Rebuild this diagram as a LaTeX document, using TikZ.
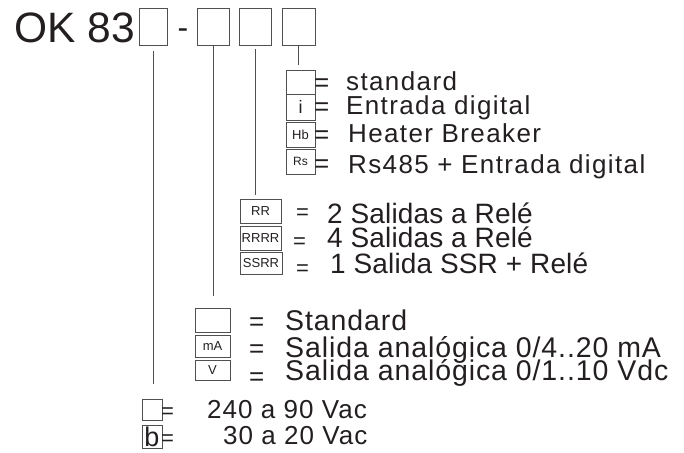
\documentclass[tikz,border=0pt]{standalone}
\usepackage{fontspec}
\setmainfont{Liberation Sans}
\usetikzlibrary{positioning}
\definecolor{ink}{HTML}{231F20}
\definecolor{rule}{HTML}{505050}
\newcommand{\fsz}[1]{\fontsize{#1}{#1}\selectfont}

\begin{document}
\begin{tikzpicture}[x=1pt,y=-1pt,node distance=2pt,text=ink]
\tikzset{box/.style={draw=rule,line width=0.7pt,inner sep=0pt,minimum width=#1,font=\fsz{13}},
  eq/.style={anchor=base west,inner sep=0pt,font=\fsz{#1}},
  desc/.style 2 args={anchor=base west,inner sep=0pt,font=\fsz{#1}\addfontfeature{LetterSpace=#2}},
  wire/.style={draw=rule,line width=0.7pt}}
\useasboundingbox (0,0) rectangle (684,452);
% code header
\node[desc={42.5}{0}] (title) at (14,42) {OK 83};
\node[box=28pt,minimum height=37pt] (t1) at (153,26.5) {};
\node[anchor=base,inner sep=0pt,font=\fsz{32}] (dash) at (183,39) {-};
\node[box=32pt,minimum height=37pt] (t2) at (213,26.5) {};
\node[box=32pt,minimum height=37pt] (t3) at (255,26.5) {};
\node[box=33pt,minimum height=37pt] (t4) at (298.5,26.5) {};
% last field
\node[box=29pt,minimum height=24pt] (c1) at (300.5,82) {};
\node[box=29pt,minimum height=26pt,font=\fsz{18}] (c2) at (300.5,107) {i};
\node[box=29pt,minimum height=25pt] (c3) at (300.5,134.5) {Hb};
\node[box=29pt,minimum height=25pt,font=\fsz{12}] (c4) at (300.5,161.5) {Rs};
\node[eq=26] (ec1) at (314,91) {=};
\node[eq=26] (ec2) at (314,115.5) {=};
\node[eq=26] (ec3) at (314,143) {=};
\node[eq=26] (ec4) at (314,172) {=};
\node[desc={26}{5.3}] (dc1) at (346,90) {standard};
\node[desc={26}{5.3}] (dc2) at (346,114) {Entrada digital};
\node[desc={26}{5.3}] (dc3) at (348,142) {Heater Breaker};
\node[desc={26}{5.3}] (dc4) at (348,173) {Rs485 + Entrada digital};
% relays
\node[box=41pt,minimum height=24pt] (r1) at (260.5,211) {RR};
\node[box=41pt,minimum height=24pt] (r2) at (260.5,238) {RRRR};
\node[box=42pt,minimum height=22pt] (r3) at (261,263.5) {SSRR};
\node[eq=22] (er1) at (296,219.5) {=};
\node[eq=22] (er2) at (293,248.5) {=};
\node[eq=22] (er3) at (296,275.5) {=};
\node[desc={28}{0.5}] (dr1) at (327,223) {2 Salidas a Relé};
\node[desc={28}{0.5}] (dr2) at (327,247) {4 Salidas a Relé};
\node[desc={28}{0.5}] (dr3) at (330,273) {1 Salida SSR + Relé};
% analog output
\node[box=35pt,minimum height=24pt] (a1) at (212.5,320) {};
\node[box=35pt,minimum height=22pt] (a2) at (212.5,346) {mA};
\node[box=35pt,minimum height=20pt] (a3) at (212.5,370) {V};
\node[eq=26] (ea1) at (249,330.5) {=};
\node[eq=26] (ea2) at (249,357) {=};
\node[eq=26] (ea3) at (249,385) {=};
\node[desc={28.5}{3.2}] (da1) at (285,330) {Standard};
\node[desc={28.5}{3.2}] (da2) at (285,357) {Salida analógica 0/4..20 mA};
\node[desc={28.5}{3.2}] (da3) at (285,380) {Salida analógica 0/1..10 Vdc};
% supply
\node[box=20pt,minimum height=21pt] (p1) at (152,409.5) {};
\node[box=20pt,minimum height=23pt,font=\fsz{27}] (p2) at (152,436.5) {b};
\node[eq=22] (ep1) at (161,418) {=};
\node[eq=22] (ep2) at (161,445) {=};
\node[desc={26}{4}] (dp1) at (207,418) {240 a 90 Vac};
\node[desc={26}{4}] (dp2) at (223,444) {30 a 20 Vac};
% leaders
\draw[wire,shorten <=6pt,shorten >=15pt] (t1.south) -- (t1.south |- p1.north);
\draw[wire,shorten >=12pt] (t2.south) -- (t2.south |- a1.north);
\draw[wire,shorten <=4pt,shorten >=4pt] (t3.south) -- (t3.south |- r1.north);
\draw[wire,shorten >=5pt] (t4.south) -- (t4.south |- c1.north);
\end{tikzpicture}
\end{document}
